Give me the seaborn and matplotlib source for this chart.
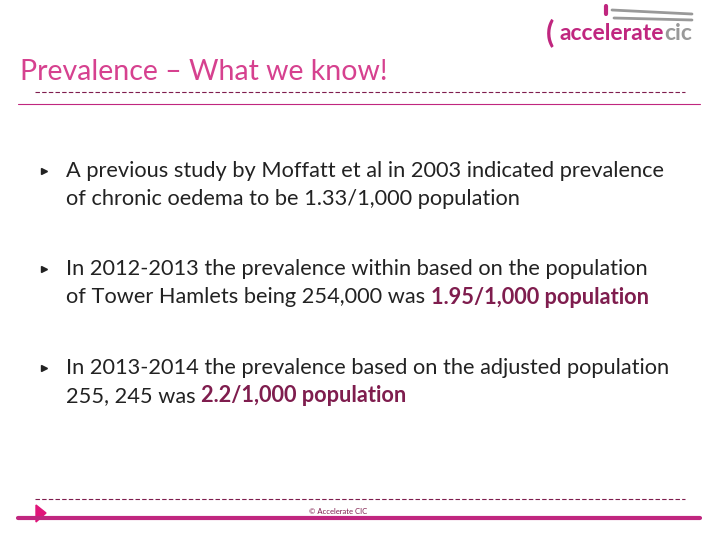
import matplotlib
matplotlib.use("Agg")
import matplotlib.pyplot as plt
import seaborn as sns

sns.set_theme(style="white")
plt.rcParams['font.family'] = ['Lato', 'DejaVu Sans']

title = "Prevalence – What we know!"
bullet_lines = [
    [[("A previous study by Moffatt et al in 2003 indicated prevalence", False)],
     [("of chronic oedema to be 1.33/1,000 population", False)]],
    [[("In 2012-2013 the prevalence within based on the population", False)],
     [("of Tower Hamlets being 254,000 was ", False), ("1.95/1,000 population", True)]],
    [[("In 2013-2014 the prevalence based on the adjusted population", False)],
     [("255, 245 was ", False), ("2.2/1,000 population", True)]],
]
bullet_y = [171, 269, 368]
footer = "© Accelerate CIC"

PINK = "#d6418f"
MAG = "#c0267f"
DARK = "#7f1d4e"
TXT = "#222222"

fig = plt.figure(figsize=(7.2, 5.4), dpi=100)
ax = fig.add_axes([0, 0, 1, 1])
ax.set_xlim(0, 720); ax.set_ylim(540, 0); ax.axis("off")

ax.text(20, 72, title, color=PINK, fontsize=20.5, va="center", ha="left")
ax.plot([35, 685], [92, 92], color=DARK, lw=0.8, ls=(0, (4, 2)))
ax.plot([18, 700], [104, 104], color=MAG, lw=0.8)

fig.canvas.draw()
r = fig.canvas.get_renderer()
inv = ax.transData.inverted()

# logo
ax.text(546, 33, "(", color=MAG, fontsize=22, fontweight="bold", va="center")
t = ax.text(559, 33, "accelerate", color=MAG, fontsize=16.5, fontweight="bold", va="center")
bx = inv.transform((t.get_window_extent(r).x1, 0))[0]
ax.text(bx + 1, 33, "cic", color="#999999", fontsize=16.5, fontweight="bold", va="center")
ax.plot([612, 692], [10, 14], color="#999999", lw=2)
ax.plot([614, 692], [18, 20], color="#999999", lw=2)
ax.plot([606, 606], [6, 14], color=MAG, lw=3)

for y0, lines in zip(bullet_y, bullet_lines):
    ax.plot([44], [y0], marker=">", color=TXT, ms=5)
    for i, parts in enumerate(lines):
        x = 66
        y = y0 + i * 28
        for s, bold in parts:
            t = ax.text(x, y, s, fontsize=15.7, va="center", ha="left",
                        color=DARK if bold else TXT,
                        fontweight="bold" if bold else "normal")
            bb = t.get_window_extent(r)
            x = inv.transform((bb.x1, bb.y1))[0]

ax.plot([35, 685], [499, 499], color=DARK, lw=0.8, ls=(0, (4, 2)))
ax.plot([18, 700], [518, 518], color=MAG, lw=3)
ax.fill([36, 36, 46], [505, 522, 513], color="#e0157a")
ax.text(338, 511, footer, fontsize=5.5, color=DARK, ha="center", va="center")

fig.savefig("out.png", dpi=100)
